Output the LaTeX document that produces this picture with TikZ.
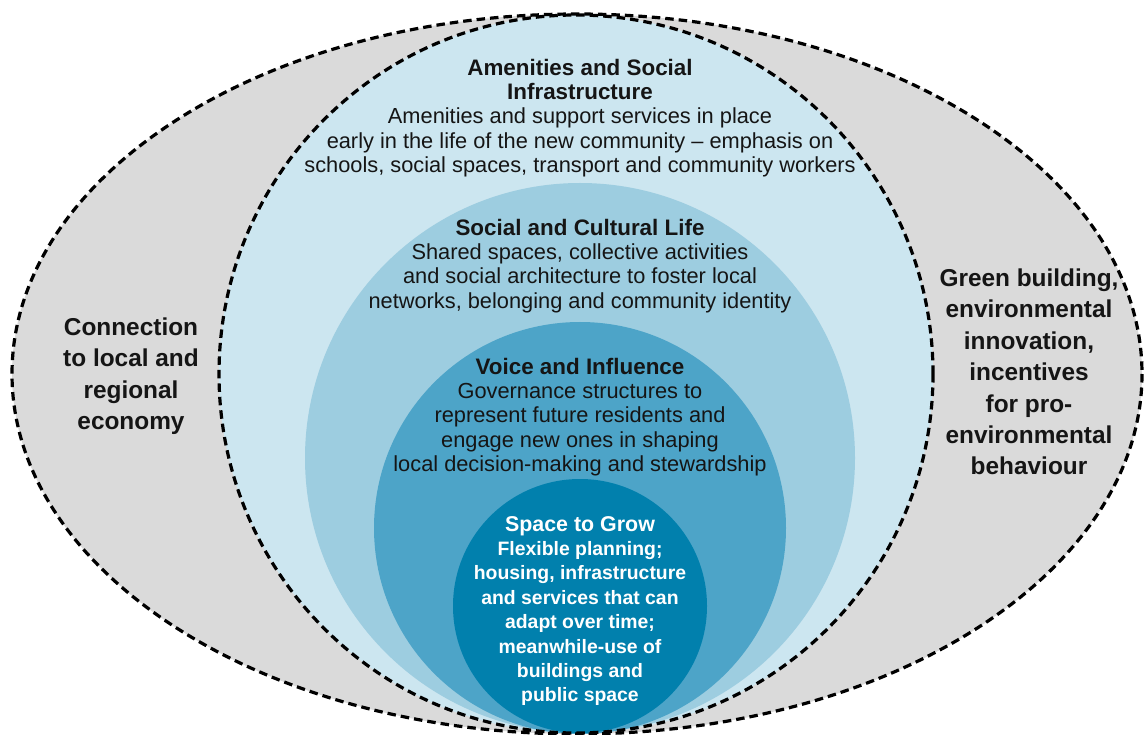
\documentclass[tikz,border=0pt]{standalone}
\usepackage{fontspec}
\setmainfont{Liberation Sans}
\definecolor{ringgray}{HTML}{DADADA}
\definecolor{ringone}{HTML}{CCE6F0}
\definecolor{ringtwo}{HTML}{9DCDE0}
\definecolor{ringthree}{HTML}{4DA4C8}
\definecolor{ringfour}{HTML}{0180AD}
\definecolor{inktext}{HTML}{151515}
\newcommand{\ringtitle}[1]{{\fontsize{22.4}{24.2}\selectfont\bfseries #1}}
\begin{document}
\begin{tikzpicture}
[x=1pt,y=-1pt,
  dashdecorate/.style={draw=black,line width=3.2pt,dash pattern=on 8.5pt off 5pt},
  ringtext/.style={align=center,text=inktext,font=\fontsize{21.8}{24.2}\selectfont},
  sidetext/.style={align=center,text=inktext,font=\fontsize{24.4}{31.4}\selectfont\bfseries}]
\useasboundingbox (0,0) rectangle (1144,735);
% rings, outside in
\fill[ringgray] (577,374) ellipse [x radius=565,y radius=360];
\fill[ringone] (576,374) ellipse [x radius=357,y radius=359];
\fill[ringtwo] (580,458) circle [radius=275];
\fill[ringthree] (580,528) circle [radius=206];
\fill[ringfour] (580,606) circle [radius=127];
% dashed borders
\draw[dashdecorate] (577,374) ellipse [x radius=565,y radius=360];
\draw[dashdecorate] (576,374) ellipse [x radius=357,y radius=359];
% texts
\node (amenities) at (580,118) [ringtext]
  {\ringtitle{Amenities and Social}\\
   \ringtitle{Infrastructure}\\
   Amenities and support services in place\\
   early in the life of the new community -- emphasis on\\
   schools, social spaces, transport and community workers};
\node (social) at (580,266) [ringtext]
  {\ringtitle{Social and Cultural Life}\\
   Shared spaces, collective activities\\
   and social architecture to foster local\\
   networks, belonging and community identity};
\node (voice) at (580,417) [ringtext]
  {\ringtitle{Voice and Influence}\\
   Governance structures to\\
   represent future residents and\\
   engage new ones in shaping\\
   local decision-making and stewardship};
\node (space) at (580,611) [ringtext,text=white,font=\fontsize{19.4}{24.4}\selectfont\bfseries]
  {{\fontsize{21.4}{24.4}\selectfont Space to Grow}\\
   Flexible planning;\\
   housing, infrastructure\\
   and services that can\\
   adapt over time;\\
   meanwhile-use of\\
   buildings and\\
   public space};
\node (economy) at (131,376) [sidetext]
  {Connection\\ to local and\\ regional\\ economy};
\node (green) at (1029,372) [sidetext]
  {Green building,\\ environmental\\ innovation,\\ incentives\\ for pro-\\ environmental\\ behaviour};
\end{tikzpicture}
\end{document}
